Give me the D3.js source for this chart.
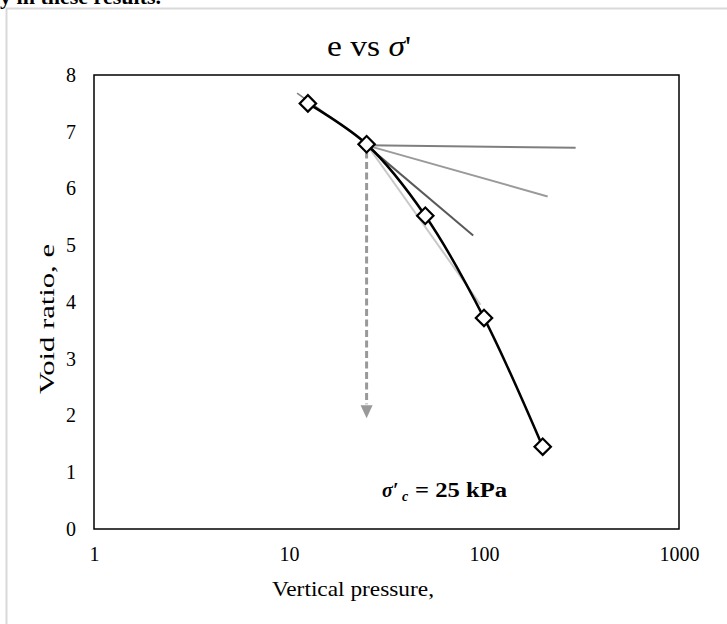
<!DOCTYPE html>
<html>
<head>
<meta charset="utf-8">
<script src="https://cdn.jsdelivr.net/npm/d3@7"></script>
<style>
  body { margin: 0; background: #fff; }
  text { font-family: "Liberation Serif", "Times New Roman", serif; fill: #000; }
</style>
</head>
<body>
<div id="chart"></div>
<script>
// measured test points
const pressure = [12.5, 25, 50, 100, 200];
const voidRatio = [7.5, 6.78, 5.52, 3.72, 1.45];

// Casagrande construction lines, [pressure, e] end points
const recompLine = [[11, 7.68], [25, 6.8]];
const horizontalLine = [[25, 6.76], [295, 6.72]];
const tangentLine = [[25, 6.76], [212, 5.86]];
const bisectorLine = [[25, 6.76], [88, 5.17]];
const virginLine = [[25, 6.78], [96, 3.95]];
const preconArrow = [[25, 6.65], [25, 1.95]];

const xTicks = [1, 10, 100, 1000];
const yTicks = [0, 1, 2, 3, 4, 5, 6, 7, 8];

const width = 727, height = 624;
const margin = { top: 75, right: 48, bottom: 95, left: 94 };
const innerW = width - margin.left - margin.right;
const innerH = height - margin.top - margin.bottom;

const svg = d3.select('#chart').append('svg')
  .attr('width', width)
  .attr('height', height);

// clipped sentence from the page above
svg.append('text')
  .attr('x', -6).attr('y', 4)
  .style('font-size', '22px')
  .style('font-weight', 'bold')
  .text('ly in these results.');

// chart area frame
svg.append('rect')
  .attr('x', 6.5).attr('y', 8.5)
  .attr('width', 740).attr('height', 640)
  .attr('fill', 'none')
  .attr('stroke', '#d9d9d9')
  .attr('stroke-width', 2);

const title = svg.append('text')
  .attr('x', 327).attr('y', 56)
  .attr('textLength', 84)
  .attr('lengthAdjust', 'spacingAndGlyphs')
  .style('font-size', '30px');
title.append('tspan').text('e vs ');
title.append('tspan').style('font-style', 'italic').text('σ');
title.append('tspan').text("'");

const x = d3.scaleLog().domain([1, 1000]).range([0, innerW]);
const y = d3.scaleLinear().domain([0, 8]).range([innerH, 0]);

const g = svg.append('g')
  .attr('transform', `translate(${margin.left},${margin.top})`);

g.append('rect')
  .attr('width', innerW).attr('height', innerH)
  .attr('fill', 'none')
  .attr('stroke', '#000')
  .attr('stroke-width', 1.5);

// axes: labels only, frame is the box above
const xAxis = g.append('g')
  .attr('transform', `translate(0,${innerH})`)
  .call(d3.axisBottom(x).tickValues(xTicks).tickFormat(d3.format('d')).tickSize(0).tickPadding(18));
const yAxis = g.append('g')
  .call(d3.axisLeft(y).tickValues(yTicks).tickSize(0).tickPadding(18));
[xAxis, yAxis].forEach(a => {
  a.select('.domain').remove();
  a.selectAll('text')
    .style('font-family', '"Liberation Serif", "Times New Roman", serif')
    .style('font-size', '20px')
    .style('fill', '#000');
});

svg.append('text')
  .attr('x', 272).attr('y', 596)
  .attr('textLength', 162)
  .attr('lengthAdjust', 'spacingAndGlyphs')
  .style('font-size', '22px')
  .text('Vertical pressure,');

svg.append('text')
  .attr('transform', 'translate(54,394) rotate(-90)')
  .attr('textLength', 150)
  .attr('lengthAdjust', 'spacingAndGlyphs')
  .style('font-size', '21px')
  .text('Void ratio, e');

const seg = d3.line().x(d => x(d[0])).y(d => y(d[1]));

const guides = [
  { pts: virginLine, color: '#c8c8c8', w: 2 },
  { pts: horizontalLine, color: '#7f7f7f', w: 2 },
  { pts: tangentLine, color: '#9a9a9a', w: 2 },
  { pts: bisectorLine, color: '#595959', w: 2 },
  { pts: recompLine, color: '#808080', w: 1.5 }
];
g.selectAll('path.guide')
  .data(guides)
  .join('path')
  .attr('class', 'guide')
  .attr('d', d => seg(d.pts))
  .attr('fill', 'none')
  .attr('stroke', d => d.color)
  .attr('stroke-width', d => d.w);

// dashed arrow down from the preconsolidation point
const arrowColor = '#999';
const tip = preconArrow[1];
g.append('path')
  .attr('d', seg([preconArrow[0], [tip[0], tip[1] + 0.25]]))
  .attr('fill', 'none')
  .attr('stroke', arrowColor)
  .attr('stroke-width', 3)
  .attr('stroke-dasharray', '7,3.5');
g.append('path')
  .attr('d', `M${x(tip[0]) - 6},${y(tip[1]) - 13} L${x(tip[0]) + 6},${y(tip[1]) - 13} L${x(tip[0])},${y(tip[1])} Z`)
  .attr('fill', arrowColor);

// compression curve
const points = pressure.map((p, i) => [p, voidRatio[i]]);
g.append('path')
  .datum(points)
  .attr('d', d3.line().x(d => x(d[0])).y(d => y(d[1])).curve(d3.curveCatmullRom.alpha(0.5)))
  .attr('fill', 'none')
  .attr('stroke', '#000')
  .attr('stroke-width', 2.5);

g.selectAll('path.marker')
  .data(points)
  .join('path')
  .attr('class', 'marker')
  .attr('transform', d => `translate(${x(d[0])},${y(d[1])}) rotate(45)`)
  .attr('d', 'M-5.8,-5.8H5.8V5.8H-5.8Z')
  .attr('fill', '#fff')
  .attr('stroke', '#000')
  .attr('stroke-width', 2.2);

// annotation
svg.append('text')
  .attr('x', 382).attr('y', 497)
  .style('font-size', '20px')
  .style('font-weight', 'bold')
  .style('font-style', 'italic')
  .text('σ′');
svg.append('text')
  .attr('x', 402).attr('y', 501)
  .style('font-size', '14px')
  .style('font-weight', 'bold')
  .style('font-style', 'italic')
  .text('c');
svg.append('text')
  .attr('x', 415).attr('y', 497)
  .attr('textLength', 92)
  .attr('lengthAdjust', 'spacingAndGlyphs')
  .style('font-size', '20px')
  .style('font-weight', 'bold')
  .text('= 25 kPa');
</script>
</body>
</html>
